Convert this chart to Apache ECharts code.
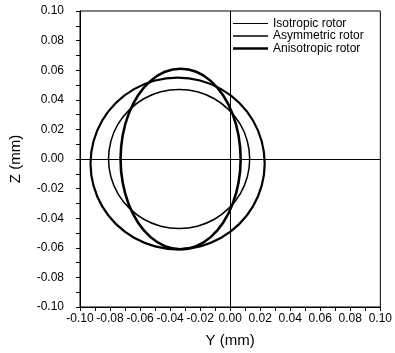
<!DOCTYPE html>
<html>
<head>
<meta charset="utf-8">
<script src="https://cdn.jsdelivr.net/npm/echarts@6/dist/echarts.min.js"></script>
<style>
  html, body { margin: 0; padding: 0; background: #fff; }
  #chart { width: 395px; height: 353px; }
</style>
</head>
<body>
<div id="chart"></div>
<script>
// orbit points (Y, Z in mm), one full turn each
const isoY = [0.013, 0.0114, 0.0067, -0.0008, -0.0105, -0.0218, -0.034, -0.0462, -0.0575, -0.0672, -0.0747, -0.0794,
  -0.081, -0.0794, -0.0747, -0.0672, -0.0575, -0.0462, -0.034, -0.0218, -0.0105, -0.0008, 0.0067, 0.0114];
const isoZ = [0, 0.0122, 0.0235, 0.0332, 0.0407, 0.0454, 0.047, 0.0454, 0.0407, 0.0332, 0.0235, 0.0122,
  0, -0.0122, -0.0235, -0.0332, -0.0407, -0.0454, -0.047, -0.0454, -0.0407, -0.0332, -0.0235, -0.0122];

const asymY = [0.023, 0.021, 0.0152, 0.006, -0.006, -0.020, -0.035, -0.050, -0.064, -0.076, -0.0852, -0.091,
  -0.093, -0.091, -0.0852, -0.076, -0.064, -0.050, -0.035, -0.020, -0.006, 0.006, 0.0152, 0.021];
const asymZ = [-0.003, 0.012, 0.026, 0.038, 0.0472, 0.053, 0.055, 0.053, 0.0472, 0.038, 0.026, 0.012,
  -0.003, -0.018, -0.032, -0.044, -0.0532, -0.059, -0.061, -0.059, -0.0532, -0.044, -0.032, -0.018];

const anisoY = [0.007, 0.0056, 0.0016, -0.0047, -0.013, -0.0226, -0.033, -0.0434, -0.053, -0.0613, -0.0676, -0.0716,
  -0.073, -0.0716, -0.0676, -0.0613, -0.053, -0.0434, -0.033, -0.0226, -0.013, -0.0047, 0.0016, 0.0056];
const anisoZ = [0, 0.0158, 0.0305, 0.0431, 0.0528, 0.0589, 0.061, 0.0589, 0.0528, 0.0431, 0.0305, 0.0158,
  0, -0.0158, -0.0305, -0.0431, -0.0528, -0.0589, -0.061, -0.0589, -0.0528, -0.0431, -0.0305, -0.0158];

const seriesNames = ["Isotropic rotor", "Asymmetric rotor", "Anisotropic rotor"];

const FONT = "Liberation Sans";
const pairs = (ys, zs) => ys.map((y, i) => [y, zs[i]]);

function axis(name, nameGap, labelMargin) {
  return {
    type: "value",
    name: name,
    nameLocation: "middle",
    nameGap: nameGap,
    nameTextStyle: { fontFamily: FONT, fontSize: 15, color: "#000" },
    min: -0.1,
    max: 0.1,
    interval: 0.02,
    axisLine: { onZero: false, lineStyle: { color: "#000", width: 1 } },
    axisTick: { show: true, inside: false, length: 4, lineStyle: { color: "#000" } },
    minorTick: { show: true, splitNumber: 2, length: 4, lineStyle: { color: "#000" } },
    splitLine: { show: false },
    axisLabel: {
      fontFamily: FONT, fontSize: 12, color: "#000", margin: labelMargin,
      formatter: v => v.toFixed(2)
    }
  };
}

// closed smooth orbit drawn through the axes' own coordinate mapping
function orbit(name, ys, zs, width, withZeroLines) {
  const s = {
    name: name,
    type: "custom",
    coordinateSystem: "cartesian2d",
    itemStyle: { color: "#000" },
    encode: { x: 0, y: 1 },
    data: pairs(ys, zs),
    renderItem: (params, api) => {
      if (params.dataIndex !== 0) return null;
      const pts = ys.map((y, i) => api.coord([y, zs[i]]));
      return {
        type: "polygon",
        shape: { points: pts, smooth: 0.34 },
        style: { fill: "none", stroke: "#000", lineWidth: width }
      };
    }
  };
  if (withZeroLines) {
    s.markLine = {
      silent: true, symbol: "none", label: { show: false },
      lineStyle: { color: "#000", width: 1, type: "solid" },
      data: [{ xAxis: 0 }, { yAxis: 0 }]
    };
  }
  return s;
}

const chart = echarts.init(document.getElementById("chart"));
chart.setOption({
  animation: false,
  backgroundColor: "#fff",
  grid: { left: 77, right: 13, top: 11, bottom: 46, show: true, borderColor: "#000", borderWidth: 1 },
  legend: {
    orient: "vertical",
    left: 233,
    top: 17.5,
    padding: 0,
    itemWidth: 35,
    itemHeight: 14,
    itemGap: 0.5,
    itemStyle: { color: "#000" },
    textStyle: { fontFamily: FONT, fontSize: 12, color: "#000" },
    data: [
      { name: seriesNames[0], icon: "path://M0,0h35v1h-35z" },
      { name: seriesNames[1], icon: "path://M0,0h35v1.6h-35z" },
      { name: seriesNames[2], icon: "path://M0,0h35v2.4h-35z" }
    ]
  },
  xAxis: axis("Y (mm)", 26, 6),
  yAxis: axis("Z (mm)", 57, 16),
  series: [
    orbit(seriesNames[0], isoY, isoZ, 1.5, true),
    orbit(seriesNames[1], asymY, asymZ, 2.2, false),
    orbit(seriesNames[2], anisoY, anisoZ, 2.6, false)
  ]
});
</script>
</body>
</html>
